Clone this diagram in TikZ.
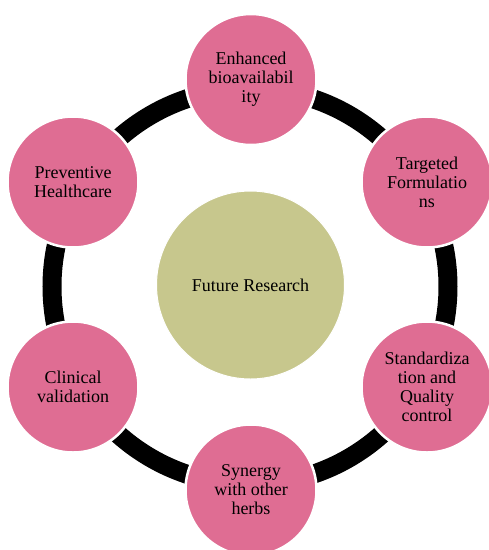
\documentclass[tikz,border=0pt]{standalone}
\usepackage{fontspec}
\setmainfont{Liberation Serif}
\definecolor{pinkc}{HTML}{DF6D93}
\definecolor{olivec}{HTML}{C7C78D}
\tikzset{
  petal/.style={circle, fill=pinkc, draw=white, line width=2.5pt, minimum size=131pt, inner sep=0pt, align=center, font=\fontsize{18}{19}\selectfont},
  hub/.style={circle, fill=olivec, draw=white, line width=1pt, minimum size=188pt, inner sep=0pt, align=center, font=\fontsize{18}{19}\selectfont},
  ring/.style={line width=19pt, black}
}
\begin{document}
\begin{tikzpicture}[x=1pt,y=-1pt]
\useasboundingbox (0,0) rectangle (489,550);
\coordinate (rc) at (250,286.5);
\draw[ring] (rc) circle (198);
\node[hub] (hub) at (250.5,285) {Future Research};
\node[petal] (p1) at (251,79.5) {Enhanced\\bioavailabil\\ity};
\node[petal] (p2) at (427,182) {Targeted\\Formulatio\\ns};
\node[petal] (p3) at (427,387) {Standardiza\\tion and\\Quality\\control};
\node[petal] (p4) at (251,490) {Synergy\\with other\\herbs};
\node[petal] (p5) at (73,387) {Clinical\\validation};
\node[petal] (p6) at (73,182) {Preventive\\Healthcare};
\end{tikzpicture}
\end{document}
